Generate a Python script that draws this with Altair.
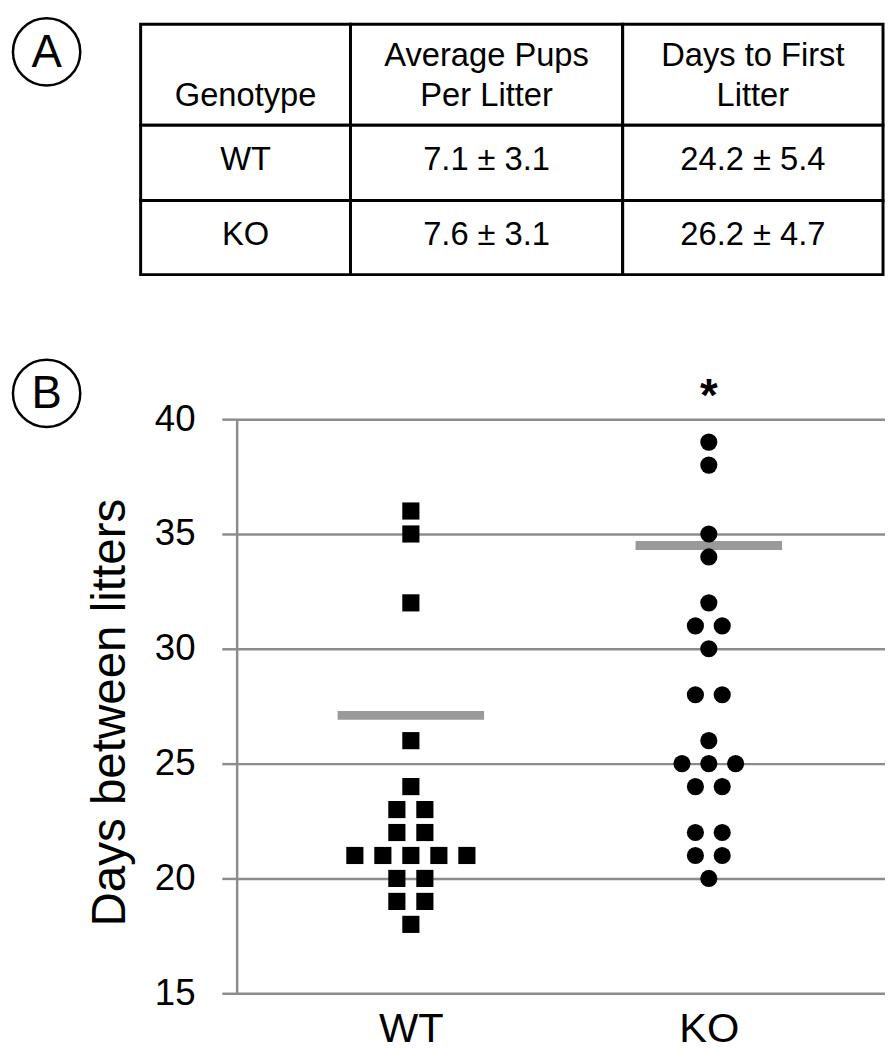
import altair as alt
import pandas as pd

FONT = "Liberation Sans"

# ---------------- Panel A: table ----------------
HEADER_LINE_1 = ["", "Average Pups", "Days to First"]
HEADER_LINE_2 = ["Genotype", "Per Litter", "Litter"]
GENOTYPES = ["WT", "KO"]
PUPS_PER_LITTER = ["7.1 ± 3.1", "7.6 ± 3.1"]
DAYS_TO_FIRST = ["24.2 ± 5.4", "26.2 ± 4.7"]

# ---------------- Panel B: days between litters ----------------
WT_DAYS = [36, 35, 32, 26, 24, 23, 23, 22, 22, 21, 21, 21, 21, 21, 20, 20, 19, 19, 18]
KO_DAYS = [39, 38, 35, 34, 32, 31, 31, 30, 28, 28, 26, 25, 25, 25, 24, 24, 22, 22, 21, 21, 20]
GROUP_MEANS = [27.1, 34.5]
Y_TICKS = [15, 20, 25, 30, 35, 40]
SIGNIFICANT = ["KO"]

# ---------------- layout (pixels, not data) ----------------
COL_WIDTHS = [212, 275, 263]
ROW_HEIGHTS = [102, 76, 75]
TABLE_LEFT = -97          # table left edge relative to plot-area left
PLOT_W, PLOT_H = 655, 580
TABLE_H = sum(ROW_HEIGHTS)
SWARM_STEP = {"WT": 0.094, "KO": 0.09}

GRAY = "#8c8c8c"

# ---------- table chart ----------
col_edges = [0]
for w in COL_WIDTHS:
    col_edges.append(col_edges[-1] + w)
row_edges = [0]
for h in ROW_HEIGHTS:
    row_edges.append(row_edges[-1] + h)

cell_rows = []
for r in range(len(ROW_HEIGHTS)):
    for c in range(len(COL_WIDTHS)):
        cell_rows.append({"x0": col_edges[c], "x1": col_edges[c + 1],
                          "y0": row_edges[r], "y1": row_edges[r + 1]})
cells_df = pd.DataFrame(cell_rows)

text_rows = []
for c in range(3):
    xc = (col_edges[c] + col_edges[c + 1]) / 2
    text_rows.append({"text": HEADER_LINE_1[c], "xc": xc, "yb": 42})
    text_rows.append({"text": HEADER_LINE_2[c], "xc": xc, "yb": 83})
for r, g in enumerate(GENOTYPES):
    yb = row_edges[r + 1] + 45
    for c, t in enumerate([g, PUPS_PER_LITTER[r], DAYS_TO_FIRST[r]]):
        xc = (col_edges[c] + col_edges[c + 1]) / 2
        text_rows.append({"text": t, "xc": xc, "yb": yb})
text_df = pd.DataFrame(text_rows)

tx = alt.Scale(domain=[0, col_edges[-1]], range=[TABLE_LEFT, TABLE_LEFT + col_edges[-1]])
ty = alt.Scale(domain=[0, TABLE_H], range=[0, TABLE_H])

cells = alt.Chart(cells_df).mark_rect(fill="white", stroke="black", strokeWidth=3).encode(
    x=alt.X("x0:Q", scale=tx, axis=None), x2="x1:Q",
    y=alt.Y("y0:Q", scale=ty, axis=None), y2="y1:Q",
)
texts = alt.Chart(text_df).mark_text(font=FONT, fontSize=33, baseline="alphabetic",
                                     align="center", color="black").encode(
    x=alt.X("xc:Q", scale=tx, axis=None),
    y=alt.Y("yb:Q", scale=ty, axis=None),
    text="text:N",
)


def panel_label(letter, px, py):
    d = pd.DataFrame({"label": [letter]})
    ring = alt.Chart(d).mark_point(shape="circle", size=68 * 68, filled=False,
                                   color="black", strokeWidth=2.5, opacity=1).encode(
        x=alt.value(px), y=alt.value(py))
    txt = alt.Chart(d).mark_text(font=FONT, fontSize=46, baseline="middle",
                                 align="center", color="black").encode(
        x=alt.value(px), y=alt.value(py + 1), text="label:N")
    return ring, txt


ringA, letterA = panel_label("A", -192, 28)
table = alt.layer(cells, texts, ringA, letterA).properties(width=PLOT_W, height=TABLE_H)

# ---------- dot plot ----------
pt_rows = []
for gi, (g, vals) in enumerate(zip(GENOTYPES, [WT_DAYS, KO_DAYS])):
    counts = pd.Series(vals).value_counts()
    seen = {}
    for v in vals:
        n = counts[v]
        i = seen.get(v, 0)
        seen[v] = i + 1
        pt_rows.append({"group": g, "gi": gi, "days": v,
                        "xpos": gi + (i - (n - 1) / 2) * SWARM_STEP[g]})
pts_df = pd.DataFrame(pt_rows)
means_df = pd.DataFrame({"group": GENOTYPES, "gi": [0, 1], "mean": GROUP_MEANS})
star_df = pd.DataFrame({"gi": [GENOTYPES.index(g) for g in SIGNIFICANT], "t": ["*"] * len(SIGNIFICANT)})

unit = 301.0
x0 = -176.0 / unit
xs = alt.Scale(domain=[x0, x0 + PLOT_W / unit], nice=False, zero=False)
ys = alt.Scale(domain=[15, 40], nice=False, zero=False)

label_expr = "[" + ",".join("'" + g + "'" for g in GENOTYPES) + "][datum.value]"
x_axis = alt.Axis(values=[0, 1], labelExpr=label_expr, title=None, domain=False,
                  ticks=False, grid=False, labelFont=FONT, labelFontSize=42,
                  labelColor="black", labelPadding=16)
y_axis = alt.Axis(values=Y_TICKS, title="Days between litters", titleFont=FONT,
                  titleFontSize=48, titleFontWeight="normal", titleColor="black",
                  titlePadding=20, titleY=296, labelFont=FONT, labelFontSize=37,
                  labelColor="black", labelPadding=27, tickSize=15, tickColor=GRAY,
                  tickWidth=2.5, domainColor=GRAY, domainWidth=2.5, grid=True,
                  gridColor=GRAY, gridWidth=2.5, gridOpacity=1)


def X(field):
    return alt.X(field, scale=xs, axis=x_axis)


def Y(field):
    return alt.Y(field, scale=ys, axis=y_axis)


means = alt.Chart(means_df).mark_tick(orient="horizontal", size=148, thickness=9,
                                      color="#9a9a9a", opacity=1).encode(
    x=X("gi:Q"), y=Y("mean:Q"))
points = alt.Chart(pts_df).mark_point(filled=True, size=300, color="black", opacity=1).encode(
    x=X("xpos:Q"), y=Y("days:Q"),
    shape=alt.Shape("group:N", scale=alt.Scale(domain=GENOTYPES, range=["square", "circle"]),
                    legend=None),
)
star = alt.Chart(star_df).mark_text(font=FONT, fontSize=46, fontWeight="bold",
                                    baseline="top", color="black").encode(
    x=X("gi:Q"), y=alt.value(-44), text="t:N")
ringB, letterB = panel_label("B", -192, -26)

plot = alt.layer(means, points, star, ringB, letterB).properties(width=PLOT_W, height=PLOT_H)

chart = alt.vconcat(table, plot, spacing=79).properties(padding=0).configure_view(strokeWidth=0)

chart.save("out.html", embed_options={"renderer": "svg", "actions": False})
